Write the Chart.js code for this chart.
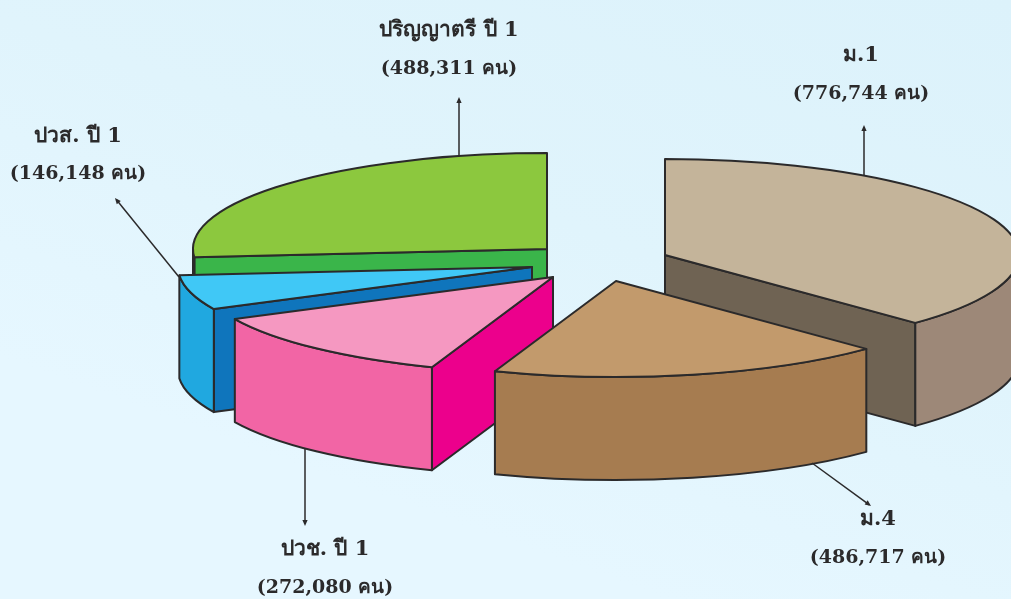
<!DOCTYPE html>
<html><head><meta charset="utf-8">
<script src="https://cdn.jsdelivr.net/npm/chart.js@4/dist/chart.umd.min.js"></script>
<style>
html,body{margin:0;padding:0;width:1011px;height:599px;overflow:hidden;
background:linear-gradient(200deg,#dcf2fb 0%,#e0f4fc 40%,#e6f7ff 75%,#e6f7ff 100%);}
#wrap{position:absolute;left:0;top:0;width:1011px;height:599px}
</style></head><body>
<div id="wrap"><canvas id="c" width="1011" height="599"></canvas></div>
<script>
// Printed labels
const categories   = ['ม.1','ม.4','ปวช. ปี 1','ปวส. ปี 1','ปริญญาตรี ปี 1'];
const studentCounts = [776744,486717,272080,146148,488311];
const unitLabel = 'คน';
// Angular size of each slice as drawn in the picture, in degrees.
// The picture's slices are not strictly proportional to the printed counts.
const drawnSpans = [135,65,44,21,95];
const topColors    = ['#c4b49a','#c29a6c','#f598c1','#40c8f6','#8cc83e'];
const outerColors  = ['#9d8878','#a67c50','#f265a5','#20a8e0','#3ab54a'];
const radialColors = ['#6f6353','#a67c50','#ec008c','#0f75bc','#3ab54a'];
// Layout only: how far each slice is pulled from the pie centre, and painter order.
const explode = [[159.5,-44.5],[110.5,-18.5],[47.5,-22.5],[26.5,-32.5],[41.5,-50.5]];
const paintOrder = [4,3,2,0,1];
const squash = 96/354, wallHeight = 103, ink = '#2b2a2b';
const labelBoxes = [
 {x:861,y1:56,y2:94},{x:878,y1:520,y2:558},{x:325,y1:550,y2:588},{x:78,y1:137,y2:174},{x:449,y1:31,y2:69}];
const leaders = [[864,176,864,125],[812,463,871,506],[305,448,305,526],[179,277,115,198],[459,155,459,97]];

const pie3d = {
  id:'pie3d',
  beforeDatasetDraw(chart,args){
    const ctx = chart.ctx, arcs = args.meta.data;
    paintOrder.forEach(i=>{
      const p = arcs[i], cx = p.x+explode[i][0], cy = p.y+explode[i][1];
      const a = p.outerRadius, b = a*squash, s = p.startAngle, e = p.endAngle;
      const pt = t=>[cx+a*Math.cos(t), cy+b*Math.sin(t)];
      ctx.save();
      ctx.lineWidth = 2; ctx.strokeStyle = ink; ctx.lineJoin='round';
      // radial walls: only those whose outward side faces the viewer
      const walls = [];
      if(Math.cos(s) < -1e-6) walls.push(s);
      if(Math.cos(e) >  1e-6) walls.push(e);
      walls.forEach(t=>{
        const q = pt(t);
        ctx.beginPath();
        ctx.moveTo(cx,cy);ctx.lineTo(q[0],q[1]);ctx.lineTo(q[0],q[1]+wallHeight);ctx.lineTo(cx,cy+wallHeight);ctx.closePath();
        ctx.fillStyle = radialColors[i];
        ctx.fill();ctx.stroke();
      });
      // outer wall, only the part that faces the viewer
      const ws = Math.max(s,0), we = Math.min(e,Math.PI);
      if(we>ws){
        const q1=pt(we);
        ctx.beginPath();
        ctx.ellipse(cx,cy,a,b,0,ws,we);
        ctx.lineTo(q1[0],q1[1]+wallHeight);
        ctx.ellipse(cx,cy+wallHeight,a,b,0,we,ws,true);
        ctx.closePath();
        ctx.fillStyle = outerColors[i];ctx.fill();ctx.stroke();
      }
      // top face
      ctx.beginPath();
      ctx.moveTo(cx,cy);
      ctx.ellipse(cx,cy,a,b,0,s,e);
      ctx.closePath();
      ctx.fillStyle = topColors[i];ctx.fill();ctx.stroke();
      ctx.restore();
    });
    return false;
  },
  afterDraw(chart){
    const ctx = chart.ctx;
    ctx.save();
    leaders.forEach(l=>{
      const ang = Math.atan2(l[3]-l[1],l[2]-l[0]);
      ctx.strokeStyle=ink;ctx.fillStyle=ink;ctx.lineWidth=1.5;
      ctx.beginPath();ctx.moveTo(l[0],l[1]);ctx.lineTo(l[2]-2*Math.cos(ang),l[3]-2*Math.sin(ang));ctx.stroke();
      ctx.save();ctx.translate(l[2],l[3]);ctx.rotate(ang);
      ctx.beginPath();ctx.moveTo(0,0);ctx.lineTo(-6,2.6);ctx.lineTo(-6,-2.6);ctx.closePath();ctx.fill();ctx.restore();
    });
    ctx.fillStyle=ink;ctx.textAlign='center';ctx.textBaseline='middle';
    categories.forEach((name,i)=>{
      const box = labelBoxes[i];
      ctx.font='bold 21px "DejaVu Serif","Noto Sans","Liberation Serif",serif';
      ctx.fillText(name,box.x,box.y1);
      ctx.font='bold 19px "DejaVu Serif","Noto Sans","Liberation Serif",serif';
      ctx.fillText('('+studentCounts[i].toLocaleString('en-US')+' '+unitLabel+')',box.x,box.y2);
    });
    ctx.restore();
  }
};

new Chart(document.getElementById('c'),{
  type:'pie',
  data:{labels:categories,datasets:[{data:drawnSpans,backgroundColor:topColors,borderWidth:0,radius:354}]},
  options:{
    responsive:false,animation:false,rotation:0,
    layout:{padding:0},
    plugins:{legend:{display:false},tooltip:{enabled:false},title:{display:false}}
  },
  plugins:[pie3d]
});
</script>
</body></html>
